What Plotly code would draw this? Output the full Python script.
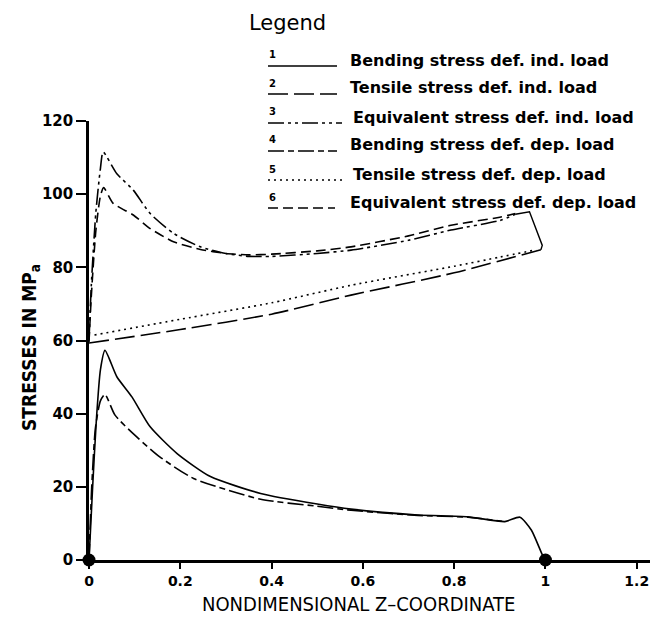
import plotly.graph_objects as go

# ---------------- data ----------------
z_bend_ind = [0, 0.008, 0.016, 0.025, 0.035, 0.061, 0.094, 0.134, 0.193, 0.266, 0.376, 0.5, 0.574, 0.72, 0.83, 0.911, 0.944, 0.969, 0.995, 1.0]
s_bend_ind = [0, 20, 38, 52, 57.3, 50.1, 44.6, 36.4, 29.1, 22.8, 18.2, 15.3, 13.9, 12.3, 11.8, 10.5, 11.7, 8.2, 0.9, 0]

z_tens_ind = [0, 0.2, 0.4, 0.574, 0.8, 0.99]
s_tens_ind = [59.3, 63.0, 67.2, 72.4, 78.5, 84.8]

z_equiv_ind = [0, 0.005, 0.015, 0.025, 0.031, 0.061, 0.097, 0.134, 0.185, 0.244, 0.3, 0.35, 0.4, 0.5, 0.574, 0.7, 0.793, 0.9, 0.934]
s_equiv_ind = [60, 75, 95, 107, 111.5, 105.6, 101.1, 94.7, 89.3, 85.6, 83.8, 83.0, 83.0, 83.8, 84.7, 87.4, 90.2, 92.8, 94.5]

z_equiv_end = [0.934, 0.965, 0.993, 0.99]
s_equiv_end = [94.5, 95.2, 86.0, 84.8]

z_bend_dep = [0, 0.006, 0.014, 0.025, 0.035, 0.057, 0.104, 0.155, 0.229, 0.376, 0.5, 0.574, 0.72, 0.83, 0.905]
s_bend_dep = [0, 20, 36, 43.5, 45.3, 39.6, 33.7, 28.2, 22.3, 16.6, 14.7, 13.6, 12.2, 11.7, 10.6]

z_tens_dep = [0.012, 0.2, 0.4, 0.574, 0.8, 0.9, 0.98]
s_tens_dep = [61.5, 65.8, 70.3, 75.1, 80.3, 82.8, 84.8]

z_equiv_dep = [0, 0.005, 0.015, 0.025, 0.032, 0.053, 0.097, 0.134, 0.185, 0.244, 0.3, 0.35, 0.4, 0.5, 0.574, 0.7, 0.793, 0.9, 0.934]
s_equiv_dep = [59.5, 72, 90, 99.5, 101.8, 97.5, 94.3, 90.6, 87.0, 84.9, 83.8, 83.4, 83.6, 84.5, 85.6, 88.6, 91.5, 93.7, 94.7]

z_supports = [0, 1]
s_supports = [0, 0]

legend_labels = [
    "Bending stress def. ind. load",
    "Tensile stress def. ind. load",
    "Equivalent stress def. ind. load",
    "Bending stress def. dep. load",
    "Tensile stress def. dep. load",
    "Equivalent stress def. dep. load",
]
legend_numbers = ["1", "2", "3", "4", "5", "6"]

x_tickvals = [0, 0.2, 0.4, 0.6, 0.8, 1.0, 1.2]
x_ticktext = ["0", "0.2", "0.4", "0.6", "0.8", "1", "1.2"]
y_tickvals = [0, 20, 40, 60, 80, 100, 120]

# ---------------- styles ----------------
dashes = [
    "solid",
    "20px,6px",
    "16px,4px,3px,4px,3px,4px",
    "16px,4px,6px,4px",
    "2px,4px",
    "10px,5px",
]
LW = 1.6

fig = go.Figure()
series = [
    (z_bend_ind, s_bend_ind, 0),
    (z_tens_ind, s_tens_ind, 1),
    (z_equiv_ind, s_equiv_ind, 2),
    (z_bend_dep, s_bend_dep, 3),
    (z_tens_dep, s_tens_dep, 4),
    (z_equiv_dep, s_equiv_dep, 5),
]
for zs, ss, i in series:
    fig.add_trace(go.Scatter(x=zs, y=ss, mode="lines", name=legend_labels[i],
                             line=dict(color="black", width=LW, dash=dashes[i], shape="spline", smoothing=0.6),
                             showlegend=False, cliponaxis=False))
fig.add_trace(go.Scatter(x=z_equiv_end, y=s_equiv_end, mode="lines",
                         line=dict(color="black", width=1.4), showlegend=False))
fig.add_trace(go.Scatter(x=z_supports, y=s_supports, mode="markers",
                         marker=dict(color="black", size=13), showlegend=False, cliponaxis=False))

# ---------------- pixel helpers for the hand-drawn legend ----------------
L, R, T, B = 89, 3, 121, 57
W, H = 653, 617
pw, ph = W - L - R, H - T - B


def px(x):
    return (x - L) / pw


def py(y):
    return (H - B - y) / ph


shapes = []
annotations = []
row_y = [60, 88, 117, 145, 174, 202]
line_end = [337, 337, 342, 337, 342, 335]
text_x = [348, 348, 351, 348, 351, 348]
for i in range(6):
    ly = row_y[i] + 6
    shapes.append(dict(type="line", xref="paper", yref="paper",
                       x0=px(268), x1=px(line_end[i]), y0=py(ly), y1=py(ly),
                       line=dict(color="black", width=1.5, dash=dashes[i])))
    annotations.append(dict(xref="paper", yref="paper", x=px(272), y=py(row_y[i] - 5),
                            text=legend_numbers[i], showarrow=False, xanchor="center", yanchor="middle",
                            font=dict(family="DejaVu Sans", size=10, color="black", weight="bold")))
    annotations.append(dict(xref="paper", yref="paper", x=px(text_x[i]), y=py(row_y[i]),
                            text=legend_labels[i], showarrow=False, xanchor="left", yanchor="middle",
                            font=dict(family="DejaVu Sans", size=16, color="black", weight="bold")))

annotations.append(dict(xref="paper", yref="paper", x=px(247), y=py(23), text="Legend", showarrow=False,
                        xanchor="left", yanchor="middle",
                        font=dict(family="DejaVu Sans", size=21, color="black")))
annotations.append(dict(xref="paper", yref="paper", x=px(358), y=py(604), text="NONDIMENSIONAL Z–COORDINATE",
                        showarrow=False, xanchor="center", yanchor="middle",
                        font=dict(family="DejaVu Sans Condensed", size=20, color="black")))
annotations.append(dict(xref="paper", yref="paper", x=px(30), y=py(348), text="STRESSES IN MP<sub>a</sub>",
                        showarrow=False, xanchor="center", yanchor="middle", textangle=-90,
                        font=dict(family="DejaVu Sans Condensed", size=19, color="black", weight="bold")))

fig.update_layout(
    width=W, height=H, autosize=False,
    margin=dict(l=L, r=R, t=T, b=B, pad=0),
    paper_bgcolor="white", plot_bgcolor="white",
    shapes=shapes, annotations=annotations,
    xaxis=dict(range=[0, 1.229], tickvals=x_tickvals, ticktext=x_ticktext,
               showline=True, linecolor="black", linewidth=2.5, ticks="outside", ticklen=6,
               tickwidth=2, tickcolor="black", showgrid=False, zeroline=False,
               tickfont=dict(family="DejaVu Sans", size=14, color="black", weight="bold")),
    yaxis=dict(range=[0, 120], tickvals=y_tickvals,
               showline=True, linecolor="black", linewidth=2.5, ticks="outside", ticklen=10,
               tickwidth=2, tickcolor="black", showgrid=False, zeroline=False,
               tickfont=dict(family="DejaVu Sans", size=15, color="black", weight="bold")),
)

fig.write_html("out.html")
